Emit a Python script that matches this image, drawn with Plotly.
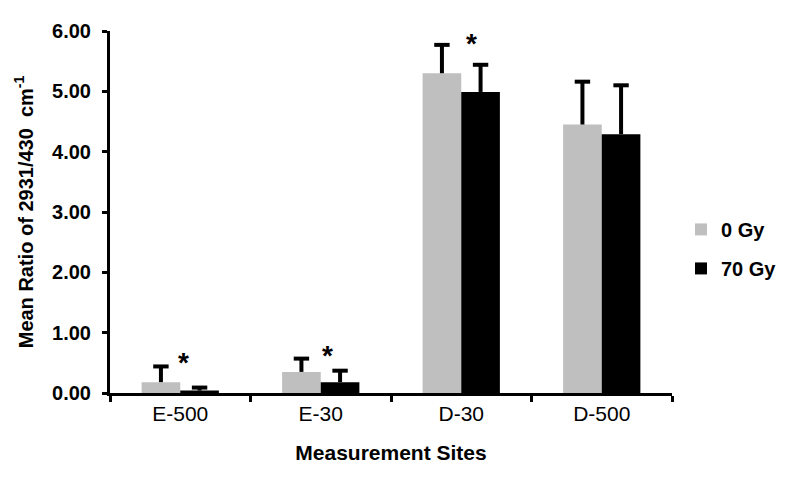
import plotly.graph_objects as go

categories = ["E-500", "E-30", "D-30", "D-500"]
gy0_mean = [0.18, 0.35, 5.30, 4.45]
gy0_err = [0.26, 0.22, 0.47, 0.71]
gy70_mean = [0.04, 0.18, 4.99, 4.29]
gy70_err = [0.05, 0.19, 0.45, 0.81]
star_sites = ["E-500", "E-30", "D-30"]
star_y = [0.59, 0.70, 5.88]
star_shift = [3, 7, 10]

FONT = "Liberation Sans, Arial, sans-serif"
GAP = 0.45

fig = go.Figure()
series = [("<b>0 Gy</b>", gy0_mean, gy0_err, "#BFBFBF", "a"),
          ("<b>70 Gy</b>", gy70_mean, gy70_err, "#000000", "b")]
for name, mean, err, col, grp in series:
    fig.add_trace(go.Bar(
        x=categories, y=mean, name=name, marker_color=col, marker_line_width=0,
        offsetgroup=grp, alignmentgroup="g", legendgroup=grp,
        error_y=dict(type="data", array=err, arrayminus=[0]*len(err), symmetric=False,
                     color="black", thickness=4, width=0),
    ))
for name, mean, err, col, grp in series:
    fig.add_trace(go.Scatter(
        x=categories, y=[m + e for m, e in zip(mean, err)], mode="markers",
        offsetgroup=grp, alignmentgroup="g", showlegend=False, hoverinfo="skip",
        marker=dict(symbol="line-ew", size=11, line=dict(color="black", width=4)),
    ))

for s, yv, sh in zip(star_sites, star_y, star_shift):
    fig.add_annotation(x=s, y=yv, text="<b>*</b>", showarrow=False, xshift=sh, yshift=-5,
                       yanchor="middle", font=dict(family=FONT, size=28, color="black"))

fig.update_layout(
    width=800, height=479,
    margin=dict(l=102, r=136, t=17, b=94),
    plot_bgcolor="white", paper_bgcolor="white",
    barmode="group", bargap=GAP, bargroupgap=0,
    scattermode="group", scattergap=GAP,
    font=dict(family=FONT, color="black"),
    legend=dict(x=1.016, y=0.398, xanchor="left", yanchor="middle",
                font=dict(family=FONT, size=20, color="black"),
                itemwidth=30, tracegroupgap=10),
    showlegend=True,
)
fig.update_xaxes(
    type="category", showline=True, linecolor="black", linewidth=3,
    ticks="outside", tickson="boundaries", ticklen=6, tickwidth=3, tickcolor="black",
    tickfont=dict(family=FONT, size=21, color="black"),
    title=dict(text="<b>Measurement Sites</b>", font=dict(family=FONT, size=21), standoff=22),
    showgrid=False,
)
fig.update_yaxes(
    range=[0, 6], dtick=1, tickformat=".2f", showline=True, linecolor="black", linewidth=3,
    ticks="outside", ticklen=5, tickwidth=3, tickcolor="black", ticklabelstandoff=7,
    tickfont=dict(family=FONT, size=20, color="black"),
    tickprefix="<b>", ticksuffix="</b>",
    title=dict(text="<b>Mean Ratio of 2931/430  cm<sup>-1</sup></b>", font=dict(family=FONT, size=20), standoff=14),
    showgrid=False, zeroline=False,
)

fig.write_html("out.html")
